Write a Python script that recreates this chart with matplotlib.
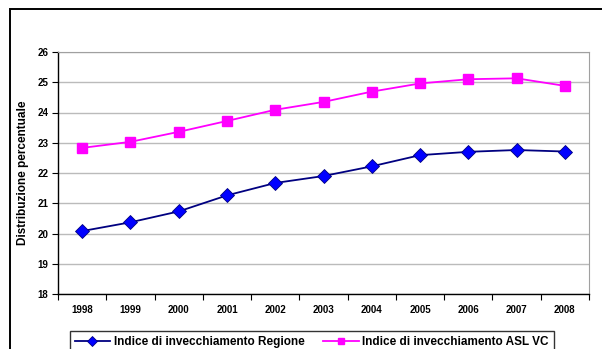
import matplotlib.pyplot as plt
from matplotlib.patches import Rectangle

plt.rcParams['font.family'] = ['Liberation Sans', 'DejaVu Sans']
plt.rcParams['font.weight'] = 'bold'

years = ['1998', '1999', '2000', '2001', '2002', '2003', '2004', '2005', '2006', '2007', '2008']
regione = [20.08, 20.37, 20.73, 21.26, 21.67, 21.90, 22.22, 22.59, 22.70, 22.76, 22.71]
asl_vc = [22.83, 23.03, 23.36, 23.72, 24.09, 24.35, 24.69, 24.96, 25.10, 25.13, 24.88]

fig = plt.figure(figsize=(6.02, 3.49), dpi=100)
W, H = 602, 349

# outer chart frame
fig.patches.append(Rectangle((10 / W, -0.2), 1.2, (H - 9) / H + 0.2, transform=fig.transFigure,
                             fill=False, edgecolor='black', linewidth=1.4))

ax = fig.add_axes([58 / W, (H - 294) / H, 531 / W, 242 / H])
x = list(range(len(years)))
ax.plot(x, regione, color='#000080', linewidth=1.3, marker='D', markersize=7,
        markerfacecolor='#0000FF', markeredgecolor='#000080', markeredgewidth=0.6,
        label='Indice di invecchiamento Regione', zorder=3)
ax.plot(x, asl_vc, color='#FF00FF', linewidth=1.3, marker='s', markersize=6.5,
        markerfacecolor='#FF00FF', markeredgecolor='#FF00FF',
        label='Indice di invecchiamento ASL VC', zorder=3)

ax.set_xlim(-0.5, len(years) - 0.5)
ax.set_ylim(18, 26)
ax.set_yticks(range(18, 27))
ax.yaxis.grid(True, color='#BBBBBB', linewidth=1)
ax.set_axisbelow(True)

ax.set_xticks(x)
ax.set_xticklabels(years, fontsize=7, fontweight='bold')
ax.tick_params(axis='x', length=0, pad=8)
ax.set_xticks([i - 0.5 for i in range(len(years) + 1)], minor=True)
ax.tick_params(axis='x', which='minor', length=4, direction='out', width=0.8)
ax.tick_params(axis='y', length=4, width=0.8, labelsize=7, pad=3)
for lab in ax.get_yticklabels():
    lab.set_fontweight('bold')

for side in ['top', 'right']:
    ax.spines[side].set_color('#A0A0A0')
for side in ['left', 'bottom']:
    ax.spines[side].set_color('black')
    ax.spines[side].set_linewidth(1)

ax.set_ylabel('Distribuzione percentuale', fontsize=8.5, fontweight='bold', labelpad=6)

leg = fig.legend(loc='upper left', bbox_to_anchor=(70 / W, (H - 331) / H), ncol=2,
                 fontsize=8.5, frameon=True, fancybox=False, handlelength=3,
                 markerscale=0.75, borderpad=0.4, columnspacing=1.6,
                 handletextpad=0.3, borderaxespad=0)
leg.get_frame().set_edgecolor('black')
leg.get_frame().set_linewidth(1)
for t in leg.get_texts():
    t.set_fontweight('bold')

fig.savefig('out.png', dpi=100)
